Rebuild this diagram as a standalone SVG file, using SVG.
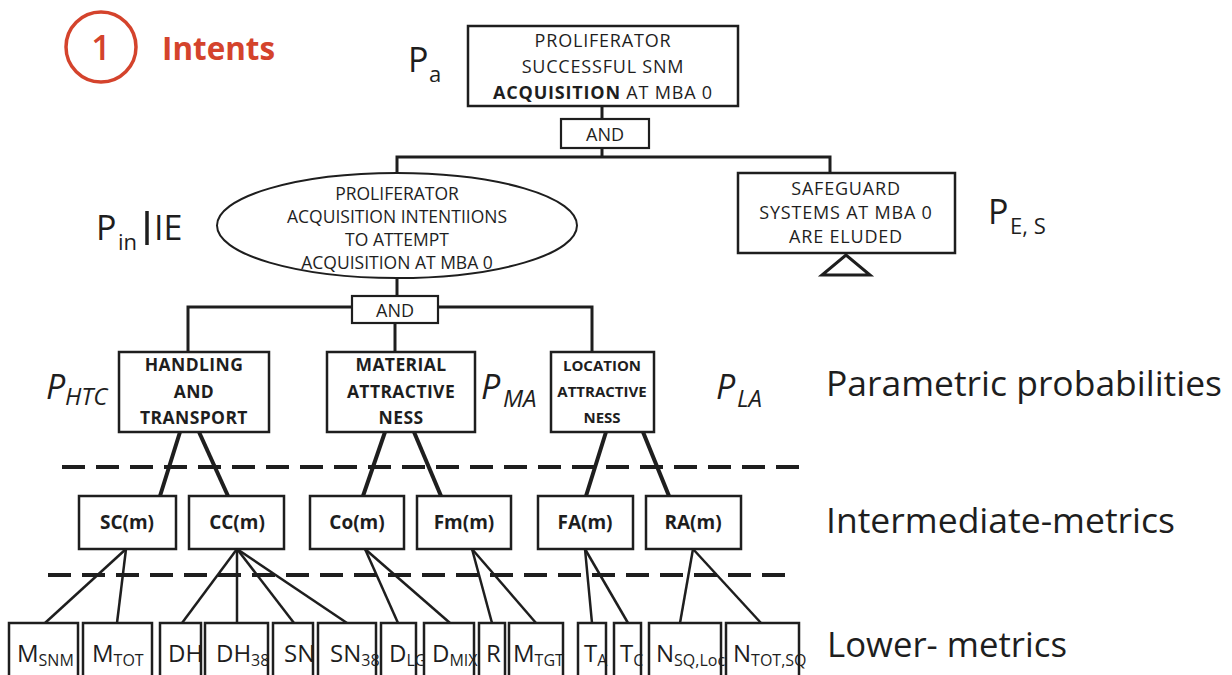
<svg xmlns="http://www.w3.org/2000/svg" width="1232" height="675" viewBox="0 0 1232 675">
  <style>
    text { font-family: "Open Sans", "Noto Sans", "Liberation Sans", sans-serif; fill: #1e1e1e; }
    .box { fill: #ffffff; stroke: #1e1e1e; stroke-width: 2.5; }
    .gate { fill: #ffffff; stroke: #1e1e1e; stroke-width: 2.2; }
    .tree { fill: none; stroke: #1e1e1e; stroke-width: 3; }
    .thick { fill: none; stroke: #1e1e1e; stroke-width: 4; }
    .thin { fill: none; stroke: #1e1e1e; stroke-width: 2.5; }
    .dash { fill: none; stroke: #1e1e1e; stroke-width: 4; stroke-dasharray: 23 11; }
    .up { font-size: 18px; letter-spacing: 0.8px; text-anchor: middle; }
    .el { font-size: 17.5px; text-anchor: middle; }
    .gt { font-size: 18px; text-anchor: middle; }
    .pb { font-size: 17.5px; letter-spacing: 0.4px; font-weight: 700; text-anchor: middle; }
    .pbs { font-size: 15px; font-weight: 700; text-anchor: middle; }
    .im { font-size: 19px; font-weight: 700; text-anchor: middle; }
    .lm { font-size: 24px; }
    .sub { font-size: 16px; }
    .pr { font-size: 34px; }
    .prs { font-size: 22px; }
    .pi { font-size: 34px; font-style: italic; }
    .pis { font-size: 24px; font-style: italic; }
    .lvl { font-size: 34px; }
  </style>

  <!-- heading -->
  <g id="heading">
    <circle cx="101" cy="47" r="35" fill="none" stroke="#d4432c" stroke-width="3.5"/>
    <text x="101" y="60" font-size="34" font-weight="600" text-anchor="middle" style="fill:#d4432c">1</text>
    <text x="162" y="60" font-size="32" font-weight="700" textLength="113" lengthAdjust="spacingAndGlyphs" style="fill:#d4432c">Intents</text>
  </g>

  <!-- connectors -->
  <g id="connectors">
    <line class="tree" x1="602" y1="106" x2="602" y2="119"/>
    <polyline class="tree" points="397,173 397,157 830,157 830,173"/>
    <line class="tree" x1="602" y1="148" x2="602" y2="157"/>
    <line class="tree" x1="397" y1="278" x2="397" y2="296"/>
    <polyline class="tree" points="188,352 188,307 352,307"/>
    <polyline class="tree" points="438,307 592,307 592,352"/>
    <line class="tree" x1="395" y1="323" x2="395" y2="352"/>

    <line class="thick" x1="180" y1="432" x2="160" y2="496"/>
    <line class="thick" x1="199" y1="432" x2="228" y2="496"/>
    <line class="thick" x1="385" y1="432" x2="363" y2="496"/>
    <line class="thick" x1="414" y1="432" x2="441" y2="496"/>
    <line class="thick" x1="606" y1="432" x2="586" y2="496"/>
    <line class="thick" x1="643" y1="432" x2="669" y2="496"/>

    <line class="thin" x1="126" y1="549" x2="45" y2="623"/>
    <line class="thin" x1="126" y1="549" x2="117" y2="623"/>
    <line class="thin" x1="237" y1="549" x2="182" y2="623"/>
    <line class="thin" x1="237" y1="549" x2="237" y2="623"/>
    <line class="thin" x1="237" y1="549" x2="294" y2="623"/>
    <line class="thin" x1="237" y1="549" x2="347" y2="623"/>
    <line class="thin" x1="365" y1="549" x2="398" y2="623"/>
    <line class="thin" x1="365" y1="549" x2="450" y2="623"/>
    <line class="thin" x1="472" y1="549" x2="492" y2="623"/>
    <line class="thin" x1="472" y1="549" x2="536" y2="623"/>
    <line class="thin" x1="585" y1="549" x2="592" y2="623"/>
    <line class="thin" x1="585" y1="549" x2="628" y2="623"/>
    <line class="thin" x1="693" y1="549" x2="680" y2="623"/>
    <line class="thin" x1="693" y1="549" x2="761" y2="623"/>
  </g>

  <!-- level separators -->
  <g id="separators">
    <line class="dash" x1="62" y1="467" x2="810" y2="467"/>
    <line class="dash" x1="48" y1="575" x2="796" y2="575"/>
  </g>

  <!-- top event -->
  <g id="top-event">
    <rect class="box" x="468" y="26" width="270" height="80"/>
    <text class="up" x="603" y="47">PROLIFERATOR</text>
    <text class="up" x="603" y="73">SUCCESSFUL SNM</text>
    <text class="up" x="603" y="99"><tspan font-weight="700">ACQUISITION</tspan> AT MBA 0</text>
    <text class="pr" x="408" y="72">P</text>
    <text class="prs" x="429" y="82">a</text>
  </g>

  <g id="and-top">
    <rect class="gate" x="561" y="119" width="88" height="29"/>
    <text class="gt" x="605" y="141">AND</text>
  </g>

  <g id="intentions">
    <ellipse cx="397" cy="225.5" rx="180" ry="52.5" fill="#ffffff" stroke="#1e1e1e" stroke-width="2"/>
    <text class="el" x="397" y="200">PROLIFERATOR</text>
    <text class="el" x="397" y="223">ACQUISITION INTENTIIONS</text>
    <text class="el" x="397" y="246">TO  ATTEMPT</text>
    <text class="el" x="397" y="269">ACQUISITION AT MBA 0</text>
    <text class="pr" x="96" y="240">P</text>
    <text class="prs" x="118" y="250">in</text>
    <line x1="147" y1="211" x2="147" y2="245" stroke="#1e1e1e" stroke-width="3.5"/>
    <text class="pr" x="154" y="240">IE</text>
  </g>

  <g id="safeguards">
    <rect class="box" x="738" y="173" width="217" height="80"/>
    <text class="up" x="846" y="195">SAFEGUARD</text>
    <text class="up" x="846" y="219">SYSTEMS AT MBA 0</text>
    <text class="up" x="846" y="243">ARE ELUDED</text>
    <polygon points="846,255 822,275 870,275" fill="none" stroke="#1e1e1e" stroke-width="3"/>
    <text class="pr" x="988" y="224">P</text>
    <text class="prs" x="1010" y="234">E, S</text>
  </g>

  <g id="and-mid">
    <rect class="gate" x="352" y="296" width="86" height="27"/>
    <text class="gt" x="395" y="317">AND</text>
  </g>

  <!-- parametric probabilities -->
  <g id="handling">
    <rect class="box" x="119" y="352" width="150" height="80"/>
    <text class="pb" x="194" y="371">HANDLING</text>
    <text class="pb" x="194" y="398">AND</text>
    <text class="pb" x="194" y="424">TRANSPORT</text>
    <text class="pi" x="46" y="399">P</text>
    <text class="pis" x="65" y="405">HTC</text>
  </g>

  <g id="material">
    <rect class="box" x="327" y="352" width="148" height="80"/>
    <text class="pb" x="401" y="371">MATERIAL</text>
    <text class="pb" x="401" y="398">ATTRACTIVE</text>
    <text class="pb" x="401" y="424">NESS</text>
    <text class="pi" x="481" y="399">P</text>
    <text class="pis" x="503" y="407">MA</text>
  </g>

  <g id="location">
    <rect class="box" x="551" y="352" width="103" height="80"/>
    <text class="pbs" x="602" y="371">LOCATION</text>
    <text class="pbs" x="602" y="397">ATTRACTIVE</text>
    <text class="pbs" x="602" y="423">NESS</text>
    <text class="pi" x="716" y="399">P</text>
    <text class="pis" x="737" y="407">LA</text>
  </g>

  <!-- intermediate metrics -->
  <g id="sc">
    <rect class="box" x="79" y="496" width="97" height="53"/>
    <text class="im" x="127" y="529">SC(m)</text>
  </g>
  <g id="cc">
    <rect class="box" x="189" y="496" width="95" height="53"/>
    <text class="im" x="237" y="529">CC(m)</text>
  </g>
  <g id="co">
    <rect class="box" x="310" y="496" width="94" height="53"/>
    <text class="im" x="357" y="529">Co(m)</text>
  </g>
  <g id="fm">
    <rect class="box" x="417" y="496" width="94" height="53"/>
    <text class="im" x="464" y="529">Fm(m)</text>
  </g>
  <g id="fa">
    <rect class="box" x="538" y="496" width="95" height="53"/>
    <text class="im" x="585" y="529">FA(m)</text>
  </g>
  <g id="ra">
    <rect class="box" x="646" y="496" width="95" height="53"/>
    <text class="im" x="693" y="529">RA(m)</text>
  </g>

  <!-- lower metrics -->
  <g id="m-snm">
    <rect class="box" x="9" y="623" width="69" height="70"/>
    <text class="lm" x="17" y="662">M<tspan class="sub" dy="4">SNM</tspan></text>
  </g>
  <g id="m-tot">
    <rect class="box" x="83" y="623" width="69" height="70"/>
    <text class="lm" x="92" y="662">M<tspan class="sub" dy="4">TOT</tspan></text>
  </g>
  <g id="dh">
    <rect class="box" x="160" y="623" width="41" height="70"/>
    <text class="lm" x="168" y="662">DH</text>
  </g>
  <g id="dh38">
    <rect class="box" x="205" y="623" width="63" height="70"/>
    <text class="lm" x="216" y="662">DH<tspan class="sub" dy="4">38</tspan></text>
  </g>
  <g id="sn">
    <rect class="box" x="273" y="623" width="40" height="70"/>
    <text class="lm" x="284" y="662">SN</text>
  </g>
  <g id="sn38">
    <rect class="box" x="318" y="623" width="58" height="70"/>
    <text class="lm" x="330" y="662">SN<tspan class="sub" dy="4">38</tspan></text>
  </g>
  <g id="d-lg">
    <rect class="box" x="381" y="623" width="35" height="70"/>
    <text class="lm" x="389" y="662">D<tspan class="sub" dy="4">LG</tspan></text>
  </g>
  <g id="d-mix">
    <rect class="box" x="424" y="623" width="50" height="70"/>
    <text class="lm" x="432" y="662">D<tspan class="sub" dy="4">MIX</tspan></text>
  </g>
  <g id="r">
    <rect class="box" x="479" y="623" width="26" height="70"/>
    <text class="lm" x="486" y="662">R</text>
  </g>
  <g id="m-tgt">
    <rect class="box" x="509" y="623" width="54" height="70"/>
    <text class="lm" x="513" y="662">M<tspan class="sub" dy="4">TGT</tspan></text>
  </g>
  <g id="t-a">
    <rect class="box" x="578" y="623" width="28" height="70"/>
    <text class="lm" x="584" y="662">T<tspan class="sub" dy="4">A</tspan></text>
  </g>
  <g id="t-c">
    <rect class="box" x="614" y="623" width="27" height="70"/>
    <text class="lm" x="620" y="662">T<tspan class="sub" dy="4">C</tspan></text>
  </g>
  <g id="n-sq-loc">
    <rect class="box" x="649" y="623" width="72" height="70"/>
    <text class="lm" x="656" y="662">N<tspan class="sub" dy="4">SQ,Loc</tspan></text>
  </g>
  <g id="n-tot-sq">
    <rect class="box" x="726" y="623" width="73" height="70"/>
    <text class="lm" x="733" y="662">N<tspan class="sub" dy="4">TOT,SQ</tspan></text>
  </g>

  <!-- level captions -->
  <g id="captions">
    <text class="lvl" x="826" y="396" textLength="396" lengthAdjust="spacingAndGlyphs">Parametric probabilities</text>
    <text class="lvl" x="826" y="533" textLength="349" lengthAdjust="spacingAndGlyphs">Intermediate-metrics</text>
    <text class="lvl" x="827" y="657" textLength="240" lengthAdjust="spacingAndGlyphs">Lower- metrics</text>
  </g>
</svg>
